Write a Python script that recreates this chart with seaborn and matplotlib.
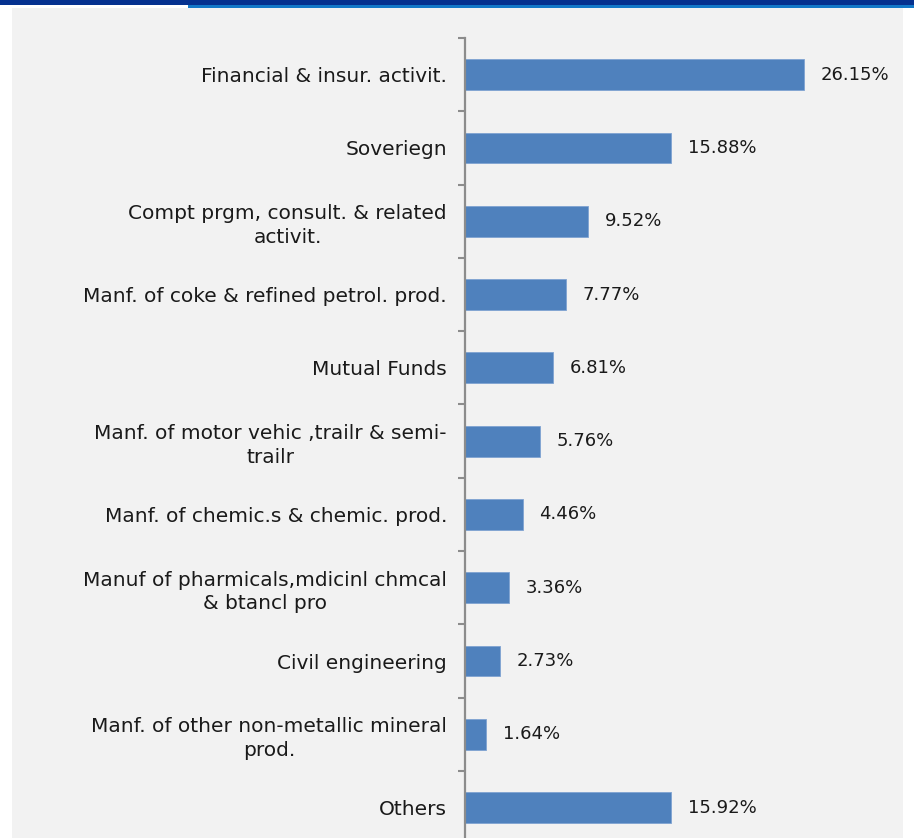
import matplotlib
matplotlib.use("Agg")
import matplotlib.pyplot as plt
from matplotlib.patches import Rectangle
from matplotlib.ticker import FixedLocator
import seaborn as sns
import pandas as pd

# Sector allocation (% of portfolio)
sectors = [
    "Financial & insur. activit.",
    "Soveriegn",
    "Compt prgm, consult. & related\nactivit.",
    "Manf. of coke & refined petrol. prod.",
    "Mutual Funds",
    "Manf. of motor vehic ,trailr & semi-\ntrailr",
    "Manf. of chemic.s & chemic. prod.",
    "Manuf of pharmicals,mdicinl chmcal\n& btancl pro",
    "Civil engineering",
    "Manf. of other non-metallic mineral\nprod.",
    "Others",
]
weights = [26.15, 15.88, 9.52, 7.77, 6.81, 5.76, 4.46, 3.36, 2.73, 1.64, 15.92]

df = pd.DataFrame({"sector": sectors, "weight": weights})

sns.set_theme(style="white")
plt.rcParams["font.family"] = ["DejaVu Sans"]

W, H = 914, 838
fig = plt.figure(figsize=(W / 100, H / 100), dpi=100, facecolor="white")

# panel background and header strips
fig.patches.append(Rectangle((12 / W, 0), (903 - 12) / W, 1 - 8 / H,
                             transform=fig.transFigure, facecolor="#F2F2F2",
                             edgecolor="none", zorder=-2))
fig.patches.append(Rectangle((0, 1 - 5 / H), 1, 5 / H,
                             transform=fig.transFigure, facecolor="#05318F",
                             edgecolor="none", zorder=-1))
fig.patches.append(Rectangle((188 / W, 1 - 8 / H), 1 - 188 / W, 3 / H,
                             transform=fig.transFigure, facecolor="#1378C8",
                             edgecolor="none", zorder=-1))

ax_left = 465 / W
ax_top = 1 - 38 / H
row_px = 73.3
ax_h = row_px * len(sectors) / H
ax = fig.add_axes([ax_left, ax_top - ax_h, 415 / W, ax_h])
ax.set_facecolor("none")

sns.barplot(data=df, x="weight", y="sector", color="#4F81BD", width=0.42,
            saturation=1, edgecolor="#7FA3D2", linewidth=0.6, ax=ax)

ax.set_xlim(0, 32)
ax.set_ylim(len(sectors) - 0.5, -0.5)
ax.set_xlabel("")
ax.set_ylabel("")
ax.set_xticks([])

for c in ax.containers:
    ax.bar_label(c, labels=[f"{v:.2f}%" for v in weights], padding=12,
                 fontsize=13, color="#1A1A1A")

ax.tick_params(axis="y", which="major", length=0, pad=13, labelsize=14.5,
               labelcolor="#1A1A1A")
for t in ax.get_yticklabels():
    t.set_multialignment("center")
    t.set_linespacing(1.3)
ax.yaxis.set_minor_locator(FixedLocator([i - 0.5 for i in range(len(sectors) + 1)]))
ax.tick_params(axis="y", which="minor", length=5, width=1.5, color="#8C8C8C",
               direction="out", left=True)

for s in ["top", "right", "bottom"]:
    ax.spines[s].set_visible(False)
ax.spines["left"].set_color("#8C8C8C")
ax.spines["left"].set_linewidth(1.6)

fig.savefig("out.png", dpi=100, facecolor="white")
